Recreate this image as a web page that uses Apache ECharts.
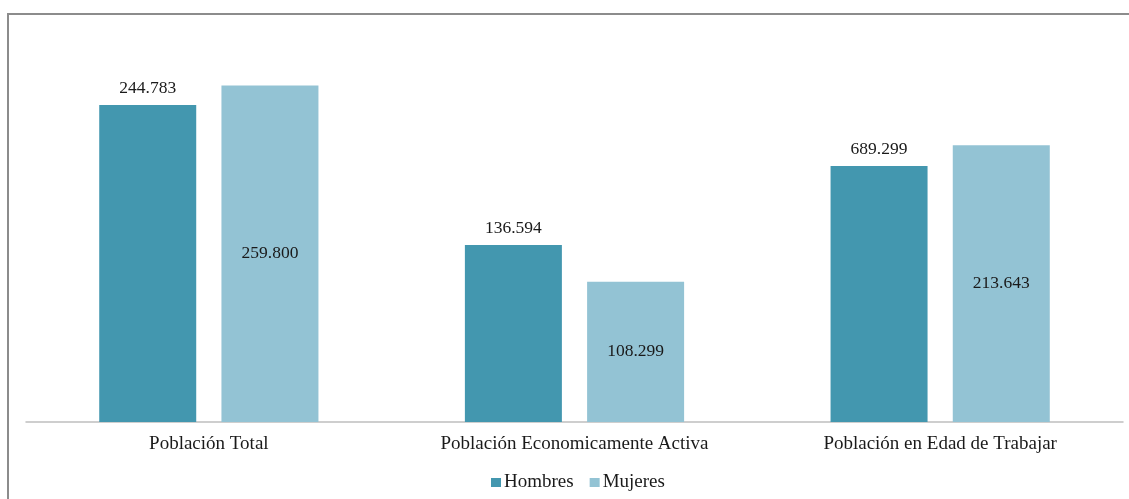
<!DOCTYPE html>
<html>
<head>
<meta charset="utf-8">
<script src="https://cdn.jsdelivr.net/npm/echarts@6/dist/echarts.min.js"></script>
<style>
html,body{margin:0;padding:0;background:#fff;}
#chart{width:1129px;height:499px;}
</style>
</head>
<body>
<div id="chart"></div>
<script>
// Data (values in thousands; bar heights)
const categories = ['Población Total', 'Población Economicamente Activa', 'Población en Edad de Trabajar'];
const seriesNames = ['Hombres', 'Mujeres'];
const hombres = [244.783, 136.594, 197.7];
const mujeres = [259.8, 108.299, 213.643];
// Label texts as printed in the original
const hombresLabels = ['244.783', '136.594', '689.299'];
const mujeresLabels = ['259.800', '108.299', '213.643'];

const FONT = '"Liberation Serif", "Times New Roman", serif';
const chart = echarts.init(document.getElementById('chart'), null, {renderer: 'canvas'});
chart.setOption({
  animation: false,
  backgroundColor: '#ffffff',
  graphic: [
    {type: 'line', shape: {x1: 8, y1: 14, x2: 1129, y2: 14}, style: {stroke: '#8c8c8c', lineWidth: 2}, silent: true},
    {type: 'line', shape: {x1: 8, y1: 13, x2: 8, y2: 499}, style: {stroke: '#8c8c8c', lineWidth: 2}, silent: true}
  ],
  grid: {left: 26, right: 6, top: 33.5, bottom: 77, containLabel: false},
  legend: {
    data: seriesNames,
    bottom: 2,
    left: 486,
    icon: 'rect',
    itemWidth: 10,
    itemHeight: 9,
    itemGap: 16,
    textStyle: {fontFamily: FONT, fontSize: 19, color: '#1a1a1a', padding: [0, 0, 0, -2]}
  },
  xAxis: {
    type: 'category',
    data: categories,
    axisLine: {lineStyle: {color: '#bfbfbf', width: 1.5}},
    axisTick: {show: false},
    axisLabel: {fontFamily: FONT, fontSize: 19, color: '#1a1a1a', margin: 13}
  },
  yAxis: {
    type: 'value',
    min: 0,
    max: 300,
    show: false,
    splitLine: {show: false}
  },
  series: [
    {
      name: 'Hombres',
      type: 'bar',
      data: hombres,
      barWidth: 97,
      barGap: '26%',
      itemStyle: {color: '#4397AF'},
      label: {
        show: true,
        position: 'top',
        distance: 8,
        fontFamily: FONT,
        fontSize: 17.5,
        color: '#1a1a1a',
        formatter: p => hombresLabels[p.dataIndex]
      }
    },
    {
      name: 'Mujeres',
      type: 'bar',
      data: mujeres,
      barWidth: 97,
      itemStyle: {color: '#93C3D4'},
      label: {
        show: true,
        position: 'inside',
        fontFamily: FONT,
        fontSize: 17.5,
        color: '#1a1a1a',
        formatter: p => mujeresLabels[p.dataIndex]
      }
    }
  ]
});
</script>
</body>
</html>
